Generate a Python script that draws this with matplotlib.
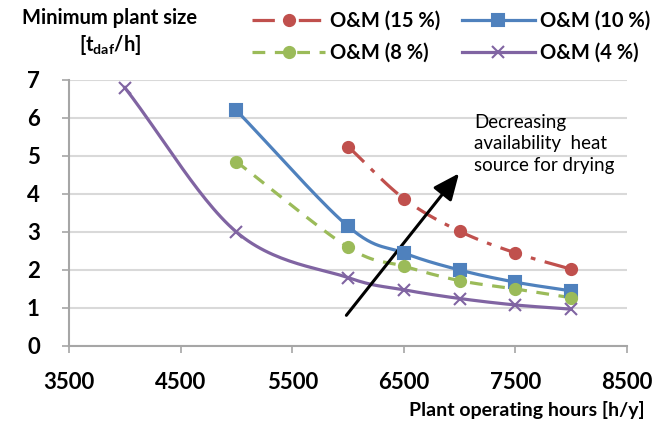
import numpy as np
import matplotlib
matplotlib.use("Agg")
import matplotlib.pyplot as plt

plt.rcParams["font.family"] = ["Lato", "DejaVu Sans"]
plt.rcParams["mathtext.fontset"] = "custom"
plt.rcParams["mathtext.rm"] = "Lato"
plt.rcParams["mathtext.bf"] = "Lato:bold"

# plant operating hours [h/y] and minimum plant size [t_daf/h] per O&M share
hours_15 = [6000, 6500, 7000, 7500, 8000]
size_15 = [5.25, 3.88, 3.02, 2.45, 2.02]
hours_10 = [5000, 6000, 6500, 7000, 7500, 8000]
size_10 = [6.2, 3.15, 2.45, 2.0, 1.68, 1.45]
hours_8 = [5000, 6000, 6500, 7000, 7500, 8000]
size_8 = [4.85, 2.6, 2.1, 1.72, 1.5, 1.27]
hours_4 = [4000, 5000, 6000, 6500, 7000, 7500, 8000]
size_4 = [6.8, 3.0, 1.8, 1.48, 1.25, 1.08, 0.97]
labels = ["O&M (15 %)", "O&M (10 %)", "O&M (8 %)", "O&M (4 %)"]

x_ticks = [3500, 4500, 5500, 6500, 7500, 8500]
y_ticks = list(range(0, 8))

XMIN, XMAX, YMIN, YMAX = 3500, 8500, 0, 7
SX, SY = 558 / (XMAX - XMIN), 266 / (YMAX - YMIN)   # rough px per unit


def smooth(xs, ys, n=30):
    """Catmull-Rom curve through the points, computed in screen-like units."""
    p = np.column_stack([(np.asarray(xs) - XMIN) * SX, np.asarray(ys) * SY])
    p = np.vstack([2 * p[0] - p[1], p, 2 * p[-1] - p[-2]])
    out = []
    for i in range(1, len(p) - 2):
        p0, p1, p2, p3 = p[i - 1], p[i], p[i + 1], p[i + 2]
        t = np.linspace(0, 1, n)[:, None]
        seg = 0.5 * ((2 * p1) + (-p0 + p2) * t + (2 * p0 - 5 * p1 + 4 * p2 - p3) * t ** 2
                     + (-p0 + 3 * p1 - 3 * p2 + p3) * t ** 3)
        out.append(seg if i == 1 else seg[1:])
    c = np.vstack(out)
    return c[:, 0] / SX + XMIN, c[:, 1] / SY


fig = plt.figure(figsize=(6.57, 4.33), dpi=100)
ax = fig.add_axes([69 / 657, 1 - 346 / 433, 558 / 657, 266 / 433])

series = [
    (hours_15, size_15, "#C0504D", (0, (7, 3, 1.5, 3)), "o", 8),
    (hours_10, size_10, "#4F81BD", "-", "s", 8),
    (hours_8, size_8, "#9BBB59", (0, (4, 3)), "o", 8),
    (hours_4, size_4, "#8064A2", "-", "x", 8),
]
handles = []
for (xs, ys, col, ls, mk, ms), lab in zip(series, labels):
    cx, cy = smooth(xs, ys)
    ax.plot(cx, cy, color=col, lw=2.3, ls=ls, zorder=3)
    ax.plot(xs, ys, ls="none", marker=mk, ms=ms, color=col, mew=1.5, zorder=4)
    h, = ax.plot([], [], color=col, lw=2.3, ls=ls, marker=mk, ms=ms, mew=1.5, label=lab)
    handles.append(h)

ax.set_xlim(XMIN, XMAX)
ax.set_ylim(YMIN, YMAX)
ax.set_xticks(x_ticks)
ax.set_yticks(y_ticks)
ax.tick_params(axis="both", labelsize=16, length=5, color="#a6a6a6", width=1.2)
ax.tick_params(axis="x", pad=14)
ax.tick_params(axis="y", pad=16)
for t in ax.get_xticklabels() + ax.get_yticklabels():
    t.set_fontweight("bold")
ax.grid(axis="y", color="#d9d9d9", lw=1.5)
ax.set_axisbelow(True)
for s in ["top", "right"]:
    ax.spines[s].set_visible(False)
for s in ["left", "bottom"]:
    ax.spines[s].set_color("#a6a6a6")
    ax.spines[s].set_linewidth(1.5)

ax.annotate("", xy=(7010, 4.6), xytext=(5970, 0.75),
            arrowprops=dict(arrowstyle="-|>,head_length=1.6,head_width=0.7",
                            color="black", lw=2.2))
ax.text(7130, 6.1, "Decreasing\navailability  heat\nsource for drying",
        fontsize=13.5, va="top", ha="left", linespacing=1.3)

fig.text(110 / 657, 1 - 18 / 433, "Minimum plant size", fontsize=14.5,
         fontweight="bold", ha="center", va="center")
fig.text(110 / 657, 1 - 45 / 433, r"[t$_{\mathbf{daf}}$/h]", fontsize=14.5,
         fontweight="bold", ha="center", va="center")
fig.text(645 / 657, 1 - 410 / 433, "Plant operating hours [h/y]", fontsize=14,
         fontweight="bold", ha="right", va="center")

# column-major fill: first column 15 % / 8 %, second column 10 % / 4 %
order = [0, 2, 1, 3]
leg = fig.legend(handles=[handles[i] for i in order], ncol=2, loc="upper right",
                 bbox_to_anchor=(654 / 657, 1 - 7 / 433), frameon=False,
                 borderaxespad=0, borderpad=0.2,
                 prop=dict(weight="bold", size=14.5), handlelength=3.6,
                 columnspacing=1.1, handletextpad=0.25, labelspacing=0.6)

fig.savefig("out.png", dpi=100)
